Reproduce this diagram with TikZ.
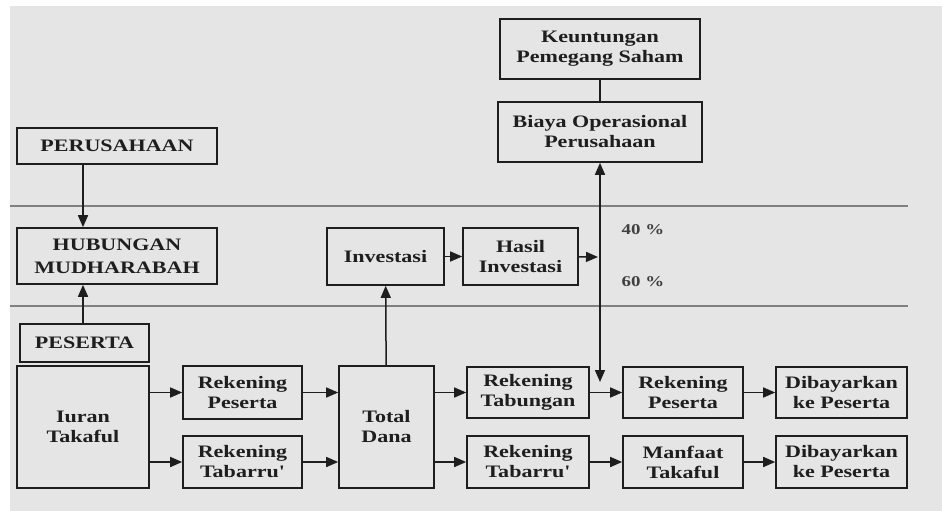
\documentclass[tikz,border=0pt]{standalone}
\usepackage{fontspec}
\usepackage{tikz}
\usetikzlibrary{arrows.meta}
\newfontfamily\lbl[FakeStretch=1.26]{Liberation Serif}
\definecolor{bgc}{RGB}{229,229,229}
\definecolor{ink}{RGB}{30,30,30}
\tikzset{
  box/.style={draw=ink, line width=1.6pt, align=center, text=ink,
    font=\lbl\bfseries\fontsize{17.5}{20}\selectfont, inner sep=1pt},
  arr/.style={-{Triangle[length=12pt,width=10pt]}, line width=1.5pt, draw=ink},
  sep/.style={draw=black!50, line width=1.2pt},
  pct/.style={text=black!75, font=\lbl\bfseries\fontsize{15}{18}\selectfont}
}

\begin{document}
\begin{tikzpicture}[x=1pt,y=-1pt]
\useasboundingbox (0,0) rectangle (942,511);
\fill[white] (0,0) rectangle (942,511);
\fill[bgc] (10,6) rectangle (942,511);
\draw[sep] (10,206) -- (908,206);
\draw[sep] (10,306) -- (908,306);

\node[box, minimum width=200, minimum height=60] (untung) at (600,49) {Keuntungan\\Pemegang Saham};
\node[box, minimum width=204, minimum height=60] (biaya) at (600,132) {Biaya Operasional\\Perusahaan};
\node[box, minimum width=200, minimum height=36] (perusahaan) at (117,146) {PERUSAHAAN};
\node[box, minimum width=200, minimum height=56, font=\lbl\bfseries\fontsize{17.5}{23}\selectfont] (hubungan) at (117,256) {HUBUNGAN\\MUDHARABAH};
\node[box, minimum width=129, minimum height=38] (peserta) at (84.5,343) {PESERTA};
\node[box, minimum width=132, minimum height=122] (iuran) at (83,427) {Iuran\\Takaful};
\node[box, minimum width=119, minimum height=53] (rekpes) at (242.5,392.5) {Rekening\\Peserta};
\node[box, minimum width=119, minimum height=52] (rektab) at (242.5,462) {Rekening\\Tabarru'};
\node[box, minimum width=95, minimum height=122] (total) at (386.5,427) {Total\\Dana};
\node[box, minimum width=117, minimum height=57] (invest) at (385.5,256.5) {Investasi};
\node[box, minimum width=115, minimum height=57] (hasil) at (520.5,256.5) {Hasil\\Investasi};
\node[box, minimum width=122, minimum height=51] (tabungan) at (528,392.5) {Rekening\\Tabungan};
\node[box, minimum width=122, minimum height=52] (tabarru) at (528,462) {Rekening\\Tabarru'};
\node[box, minimum width=120, minimum height=51] (pesertab) at (683,392.5) {Rekening\\Peserta};
\node[box, minimum width=120, minimum height=52] (manfaat) at (683,462) {Manfaat\\Takaful};
\node[box, minimum width=131, minimum height=51] (bayara) at (841.5,392.5) {Dibayarkan\\ke Peserta};
\node[box, minimum width=131, minimum height=52] (bayarb) at (841.5,462) {Dibayarkan\\ke Peserta};
\node[pct] (empat) at (643,230) {40 \%};
\node[pct] (enam) at (643,282) {60 \%};
\coordinate (bagi) at (600,257);
\coordinate (turun) at (600,382);

\draw[line width=1.5pt, draw=ink] (untung) -- (biaya);
\draw[arr] (perusahaan.south -| iuran) -- (hubungan.north -| iuran);
\draw[arr] (peserta.north -| iuran) -- (hubungan.south -| iuran);
\draw[arr] (iuran.east |- rekpes) -- (rekpes);
\draw[arr] (iuran.east |- rektab) -- (rektab);
\draw[arr] (rekpes) -- (total.west |- rekpes);
\draw[arr] (rektab) -- (total.west |- rektab);
\draw[arr] (total) -- (invest);
\draw[arr] (invest) -- (hasil);
\draw[arr] (hasil) -- ([xshift=-2]bagi);
\draw[arr] ([yshift=-6]bagi) -- (biaya);
\draw[arr] ([yshift=6]bagi) -- (turun);
\draw[arr] (total.east |- tabungan) -- (tabungan);
\draw[arr] (total.east |- tabarru) -- (tabarru);
\draw[arr] (tabungan) -- (pesertab);
\draw[arr] (tabarru) -- (manfaat);
\draw[arr] (pesertab) -- (bayara);
\draw[arr] (manfaat) -- (bayarb);
\end{tikzpicture}
\end{document}
